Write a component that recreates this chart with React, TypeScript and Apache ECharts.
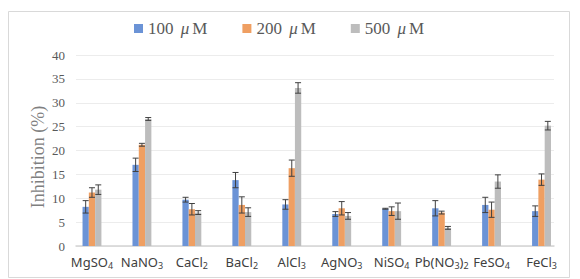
import React, { useEffect, useRef } from 'react';
import * as echarts from 'echarts';

const categories = ['MgSO4', 'NaNO3', 'CaCl2', 'BaCl2', 'AlCl3', 'AgNO3', 'NiSO4', 'Pb(NO3)2', 'FeSO4', 'FeCl3'];
const seriesNames = ['100 μM', '200 μM', '500 μM'];
const values100 = [8.2, 17.0, 9.7, 13.8, 8.7, 6.7, 7.8, 7.9, 8.6, 7.3];
const errors100 = [1.3, 1.4, 0.5, 1.6, 1.0, 0.5, 0.1, 1.6, 1.6, 1.1];
const values200 = [11.2, 21.2, 7.7, 8.6, 16.3, 7.9, 7.3, 7.0, 7.6, 13.9];
const errors200 = [1.0, 0.3, 1.2, 1.7, 1.7, 1.4, 0.9, 0.3, 1.6, 1.2];
const values500 = [11.8, 26.6, 7.0, 7.1, 33.1, 6.3, 7.3, 3.8, 13.5, 25.2];
const errors500 = [1.0, 0.3, 0.4, 0.9, 1.1, 0.7, 1.7, 0.3, 1.4, 0.9];
const yTicks = { min: 0, max: 40, interval: 5 };

const colors = ['#6B93D6', '#EF9F62', '#BDBDBD'];
const BAR_W = 6.3;

export default function App() {
  const ref = useRef<HTMLDivElement>(null);
  useEffect(() => {
    if (!ref.current) return;
    const chart = echarts.init(ref.current, null, { renderer: 'svg' });
    const valueSets = [values100, values200, values500];
    const errorSets = [errors100, errors200, errors500];
    const offsets = [-BAR_W, 0, BAR_W];

    const barSeries = seriesNames.map((name, k) => ({
      name,
      type: 'bar',
      xAxisIndex: 1,
      yAxisIndex: 1,
      barWidth: BAR_W,
      barGap: '0%',
      itemStyle: { color: colors[k] },
      data: valueSets[k],
    }));

    const errSeries = seriesNames.map((name, k) => ({
      name: name + ' err',
      type: 'custom',
      xAxisIndex: 1,
      yAxisIndex: 1,
      silent: true,
      z: 10,
      encode: { x: 0, y: [1, 2] },
      data: valueSets[k].map((v, i) => [i, v - errorSets[k][i], v + errorSets[k][i]]),
      renderItem: (params: any, api: any) => {
        const lo = api.coord([api.value(0), api.value(1)]);
        const hi = api.coord([api.value(0), api.value(2)]);
        const x = lo[0] + offsets[k];
        const cap = 3;
        const style = { stroke: '#404040', lineWidth: 1 };
        return {
          type: 'group',
          children: [
            { type: 'line', shape: { x1: x, y1: lo[1], x2: x, y2: hi[1] }, style },
            { type: 'line', shape: { x1: x - cap, y1: lo[1], x2: x + cap, y2: lo[1] }, style },
            { type: 'line', shape: { x1: x - cap, y1: hi[1], x2: x + cap, y2: hi[1] }, style },
          ],
        };
      },
    }));

    chart.setOption({
      animation: false,
      backgroundColor: '#ffffff',
      legend: {
        data: seriesNames,
        left: 129,
        top: 15,
        itemWidth: 9,
        itemHeight: 9,
        itemGap: 35,
        icon: 'rect',
        formatter: (n: string) => n.replace('μ', '{m|μ}'),
        textStyle: {
          color: '#595959',
          fontFamily: 'Liberation Serif',
          fontSize: 17,
          rich: {
            m: {
              fontStyle: 'italic',
              fontFamily: 'Liberation Serif',
              fontSize: 17,
              color: '#595959',
              padding: [0, 3, 0, 3],
            },
          },
        },
      },
      grid: [
        { left: 76, right: 26, top: 55, bottom: 33 },
        { left: 67, right: 13.5, top: 55, bottom: 33 },
      ],
      xAxis: [
        {
          gridIndex: 0,
          type: 'value',
          min: 0,
          max: 1,
          axisLine: { show: true, lineStyle: { color: '#d4d4d4', width: 1.5 } },
          axisTick: { show: false },
          axisLabel: { show: false },
          splitLine: { show: false },
        },
        {
          gridIndex: 1,
          type: 'category',
          data: categories,
          axisLine: { show: false },
          axisTick: { show: false },
          splitLine: { show: false },
          axisLabel: {
            interval: 0,
            margin: 8,
            color: '#404040',
            fontFamily: 'Noto Sans',
            fontSize: 13,
            lineHeight: 16,
            formatter: (n: string) => n.replace(/(\d)/g, '{s|$1}'),
            rich: {
              s: { fontSize: 9, lineHeight: 8, verticalAlign: 'bottom', color: '#404040', fontFamily: 'Noto Sans' },
            },
          },
        },
      ],
      yAxis: [
        {
          gridIndex: 0,
          type: 'value',
          min: yTicks.min,
          max: yTicks.max,
          interval: yTicks.interval,
          axisLine: { show: false },
          axisTick: { show: false },
          axisLabel: { color: '#595959', fontFamily: 'Liberation Serif', fontSize: 13, margin: 11 },
          splitLine: { show: true, lineStyle: { color: '#ececec', width: 1 } },
        },
        {
          gridIndex: 1,
          type: 'value',
          min: yTicks.min,
          max: yTicks.max,
          interval: yTicks.interval,
          show: false,
          splitLine: { show: false },
        },
      ],
      graphic: [
        {
          type: 'rect',
          shape: { x: 8.5, y: 11.5, width: 561, height: 266 },
          style: { fill: 'none', stroke: '#d9d9d9', lineWidth: 1 },
          silent: true,
        },
        {
          type: 'text',
          x: 38,
          y: 157,
          rotation: Math.PI / 2,
          style: {
            text: 'Inhibition (%)',
            fontFamily: 'Liberation Serif',
            fontSize: 18,
            fill: '#7f7f7f',
            textAlign: 'center',
            textVerticalAlign: 'middle',
          },
        },
      ],
      series: [...barSeries, ...errSeries],
    });
    return () => chart.dispose();
  }, []);
  return <div ref={ref} style={{ position: 'fixed', left: 0, top: 0, width: 580, height: 279 }} />;
}
